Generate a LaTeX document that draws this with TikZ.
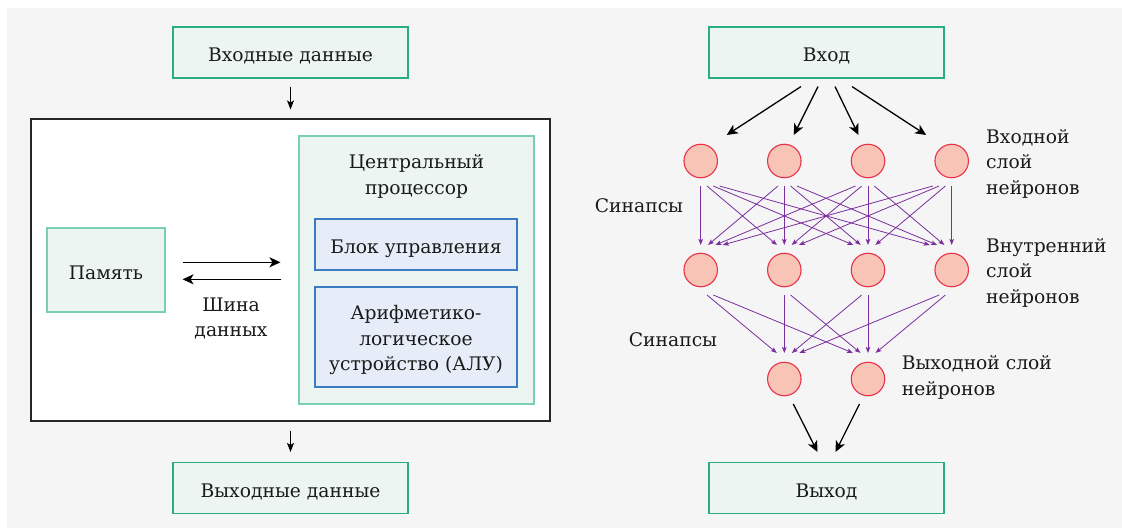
\documentclass[tikz,border=0pt]{standalone}
\usepackage{fontspec}
\setmainfont{DejaVu Serif}
\usetikzlibrary{arrows.meta,calc}

\definecolor{bggrey}{HTML}{F5F5F5}
\definecolor{boxfill}{HTML}{ECF5F1}
\definecolor{boxline}{HTML}{2BAE7E}
\definecolor{softline}{HTML}{7ACFB2}
\definecolor{unitfill}{HTML}{E6EDF8}
\definecolor{unitline}{HTML}{3B7CC4}
\definecolor{cellfill}{HTML}{F8C4B6}
\definecolor{cellline}{HTML}{E8314B}
\definecolor{synapse}{HTML}{7B2F9E}
\definecolor{ink}{HTML}{1A1A1A}

\tikzset{
  txt/.style={font=\fontsize{18.7}{25.5}\selectfont, text=ink, align=center},
  oneline/.style={text height=18.4pt, text depth=0pt},
  iobox/.style={txt, oneline, draw=boxline, fill=boxfill, line width=1.1pt,
    minimum width=235pt, minimum height=51pt, inner sep=0pt},
  softbox/.style={txt, oneline, draw=softline, fill=boxfill, line width=1.1pt, inner sep=0pt},
  unitbox/.style={txt, oneline, draw=unitline, fill=unitfill, line width=1.1pt,
    minimum width=202pt, inner sep=0pt},
  cell/.style={circle, draw=cellline, fill=cellfill, line width=1.1pt,
    minimum size=33.5pt, inner sep=0pt},
  label/.style={txt, inner sep=0pt},
  flow/.style={draw=black, line width=1.3pt, -{Stealth[length=11pt,width=10pt,inset=3pt]}},
  smallflow/.style={draw=black, line width=1.2pt, -{Stealth[length=9pt,width=7pt,inset=2pt]}},
  syn/.style={draw=synapse, line width=0.8pt, -{Stealth[length=6pt,width=4.5pt,inset=1.2pt]}}
}

\begin{document}
\begin{tikzpicture}[x=1pt,y=-1pt]
  \useasboundingbox (0,0) rectangle (1122,528);
  \fill[bggrey] (7,8) rectangle (1122,528);

  % ---------- von Neumann computer ----------
  \node[iobox] (inL) at (290.5,52.5) {Входные данные};
  \node[draw=black!85, fill=white, line width=1.1pt, minimum width=519pt,
        minimum height=302pt, inner sep=0pt] (comp) at (290.5,270) {};
  \node[softbox, minimum width=235pt, minimum height=268pt] (cpu) at (416.5,270) {};
  \node[label] (cputitle) at (416.5,176.5) {Центральный\\процессор};
  \node[unitbox, minimum height=51pt] (cu) at (416,244.5) {Блок управления};
  \node[unitbox, minimum height=100pt] (alu) at (416,337) {};
  \node[label] (alutext) at (416,340) {Арифметико-\\логическое\\устройство (АЛУ)};
  \node[softbox, minimum width=118pt, minimum height=84pt] (mem) at (106,270) {Память};
  \node[label] (bus) at (231,318.5) {Шина\\данных};
  \node[iobox] (outL) at (290.5,488) {Выходные данные};

  \draw[smallflow] ([yshift=-8pt]inL.south) -- ([yshift=9pt]comp.north);
  \draw[smallflow] ([yshift=-9pt]comp.south) -- ([yshift=10pt]outL.north);
  \draw[flow] ([xshift=17pt,yshift=7.7pt]mem.east) -- ([xshift=-18pt,yshift=7.7pt]cpu.west);
  \draw[flow] ([xshift=-17pt,yshift=-9.3pt]cpu.west) -- ([xshift=17pt,yshift=-9.3pt]mem.east);

  % ---------- neural network ----------
  \node[iobox] (inR) at (826.5,52.5) {Вход};
  \node[iobox] (outR) at (826.5,488) {Выход};

  \foreach \i/\x in {1/700.7,2/784.3,3/868,4/951.7} {
    \node[cell] (t\i) at (\x,161) {};
    \node[cell] (h\i) at (\x,270) {};
  }
  \node[cell] (o2) at (784.3,379) {};
  \node[cell] (o3) at (868,379) {};

  \node[label] (syn1) at (639,206) {Синапсы};
  \node[label] (syn2) at (673,340) {Синапсы};
  \node[label, anchor=west, align=left] (lin) at (986,163.5) {Входной\\слой\\нейронов};
  \node[label, anchor=west, align=left] (lhid) at (986,272.5) {Внутренний\\слой\\нейронов};
  \node[label, anchor=west, align=left] (lout) at (901.6,377.5) {Выходной слой\\нейронов};

  % input fan-out
  \foreach \i/\s/\e in {1/-25.5/26,2/-8.5/9.5,3/8.5/-9.5,4/25.5/-25.5}
    \draw[flow] ([xshift=\s pt,yshift=-8pt]inR.south) -- ([xshift=\e pt,yshift=26pt]t\i.center);

  % synapses: input layer -> hidden layer
  \foreach \i in {1,...,4} {
    \foreach \j in {1,...,4} {
      \pgfmathsetmacro{\sx}{6.3*(\j-\i)}
      \pgfmathsetmacro{\ex}{-7.3*(\j-\i)}
      \draw[syn] ([xshift=\sx pt,yshift=-25pt]t\i.center) -- ([xshift=\ex pt,yshift=25pt]h\j.center);
    }
  }
  % synapses: hidden layer -> output layer
  \foreach \i in {1,...,4} {
    \foreach \j in {2,3} {
      \pgfmathsetmacro{\sx}{6.3*(\j-\i)}
      \pgfmathsetmacro{\ex}{-7.5*(\j-\i)}
      \draw[syn] ([xshift=\sx pt,yshift=-25pt]h\i.center) -- ([xshift=\ex pt,yshift=26pt]o\j.center);
    }
  }

  % output fan-in
  \draw[flow] ([xshift=9pt,yshift=-25pt]o2.center) -- ([xshift=-9pt,yshift=10pt]outR.north);
  \draw[flow] ([xshift=-8.5pt,yshift=-25pt]o3.center) -- ([xshift=9pt,yshift=10pt]outR.north);
\end{tikzpicture}
\end{document}
